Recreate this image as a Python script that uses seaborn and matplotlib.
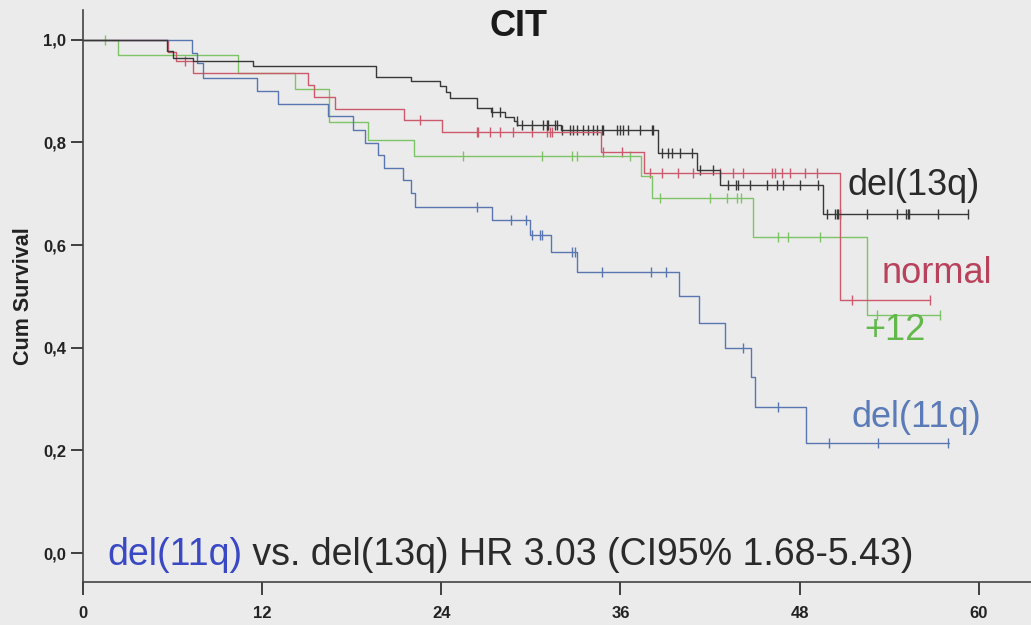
import numpy as np
import pandas as pd
import matplotlib
matplotlib.use("Agg")
import matplotlib.pyplot as plt
import seaborn as sns

# ---------------- data (months, cumulative survival) ----------------
groups = ["del(13q)", "normal", "+12", "del(11q)"]

t_13q = [5.6, 6.0, 7.4, 11.4, 19.6, 22.0, 23.9, 24.3, 24.6, 26.4, 27.3, 28.3,
         28.9, 29.1, 32.0, 38.5, 41.1, 42.7, 49.6]
s_13q = [0.978, 0.965, 0.958, 0.948, 0.928, 0.919, 0.909, 0.899, 0.886, 0.867,
         0.860, 0.850, 0.841, 0.834, 0.825, 0.780, 0.747, 0.717, 0.661]
end_13q = 59.3
c_13q = [27.37, 27.93, 29.05, 29.38, 30.05, 30.83, 31.06, 31.17, 31.61, 31.73,
         32.1, 32.62, 32.82, 33.07, 33.49, 33.82, 34.16, 34.41, 34.74, 34.83,
         35.75, 35.97, 36.17, 36.50, 37.31, 38.09, 38.18, 38.76, 39.18, 39.43,
         39.98, 40.77, 41.33, 42.2, 43.20, 43.74, 43.87, 44.67, 45.81, 46.48,
         46.89, 48.02, 49.23, 49.81, 50.37, 50.48, 50.57, 50.70, 52.49, 54.50,
         55.12, 55.24, 55.33, 57.27, 59.28]

t_norm = [5.7, 6.2, 7.4, 15.1, 15.5, 16.9, 21.5, 24.05, 34.7, 37.6, 50.7]
s_norm = [0.977, 0.958, 0.935, 0.911, 0.889, 0.865, 0.843, 0.821, 0.782, 0.741, 0.493]
end_norm = 56.7
c_norm = [6.83, 22.57, 26.37, 26.46, 27.26, 27.93, 28.80, 30.05, 31.06, 31.28,
          31.39, 34.83, 36.08, 37.98, 38.76, 39.85, 40.86, 42.67, 43.54, 44.21,
          46.13, 46.35, 46.80, 47.39, 48.39, 49.14, 51.49, 56.73]

t_12 = [2.34, 10.4, 14.2, 16.5, 19.1, 22.2, 37.4, 38.1, 44.9, 52.5]
s_12 = [0.971, 0.936, 0.904, 0.839, 0.805, 0.774, 0.734, 0.692, 0.616, 0.464]
end_12 = 57.4
c_12 = [1.47, 25.45, 30.72, 32.73, 33.07, 36.64, 38.65, 41.99, 43.13, 43.80,
        44.07, 46.55, 47.22, 49.36, 53.16, 57.40]

t_11q = [7.27, 7.62, 8.04, 11.63, 13.06, 16.41, 18.10, 18.89, 19.73, 20.19,
         21.45, 21.97, 22.27, 27.37, 29.94, 31.33, 33.07, 39.94, 41.28, 43.00,
         44.74, 45.01, 48.43]
s_11q = [0.975, 0.955, 0.926, 0.901, 0.875, 0.851, 0.825, 0.799, 0.776, 0.751,
         0.727, 0.702, 0.675, 0.648, 0.620, 0.587, 0.548, 0.500, 0.449, 0.399,
         0.342, 0.285, 0.214]
end_11q = 58.0
c_11q = [26.37, 28.65, 29.67, 30.05, 30.61, 30.75, 32.73, 32.95, 34.74, 38.02,
         39.05, 44.23, 46.55, 49.99, 53.27, 57.96]

x_ticks = [0, 12, 24, 36, 48, 60]
y_ticks = [0.0, 0.2, 0.4, 0.6, 0.8, 1.0]
y_tick_labels = ["0,0", "0,2", "0,4", "0,6", "0,8", "1,0"]

title = "CIT"
y_label = "Cum Survival"
hr_group = "del(11q)"
hr_text = " vs. del(13q) HR 3.03 (CI95% 1.68-5.43)"

line_colors = {"del(13q)": "#383838", "normal": "#cc5a6c",
               "+12": "#7dc466", "del(11q)": "#5a76b0"}
label_colors = {"del(13q)": "#2a2a2a", "normal": "#b8425c",
                "+12": "#62b84a", "del(11q)": "#5a7ab8"}
label_pos = {"del(13q)": (51.2, 0.698), "normal": (53.5, 0.526),
             "+12": (52.3, 0.415), "del(11q)": (51.5, 0.246)}

series = {
    "del(13q)": (t_13q, s_13q, end_13q, c_13q),
    "normal": (t_norm, s_norm, end_norm, c_norm),
    "+12": (t_12, s_12, end_12, c_12),
    "del(11q)": (t_11q, s_11q, end_11q, c_11q),
}

# ---------------- build tables ----------------
rows, crow = [], []
for g, (t, s, end, cens) in series.items():
    tt = [0.0] + list(t) + [end]
    ss = [1.0] + list(s) + [s[-1]]
    for a, b in zip(tt, ss):
        rows.append((g, a, b))
    ta = np.array([0.0] + list(t))
    sa = np.array([1.0] + list(s))
    for c in cens:
        idx = np.searchsorted(ta, c, side="right") - 1
        crow.append((g, c, sa[idx]))
curves = pd.DataFrame(rows, columns=["group", "time", "surv"])
censored = pd.DataFrame(crow, columns=["group", "time", "surv"])

# ---------------- plot ----------------
sns.set_theme(style="white")
plt.rcParams["font.family"] = ["Liberation Sans", "DejaVu Sans"]
bg = "#ebebeb"
fig = plt.figure(figsize=(10.31, 6.25), dpi=100, facecolor=bg)
ax = fig.add_axes([0.0805, 0.0688, 0.9195, 0.9152])
ax.set_facecolor(bg)

order = ["+12", "normal", "del(11q)", "del(13q)"]
for g in order:
    sub = curves[curves.group == g]
    sns.lineplot(data=sub, x="time", y="surv", color=line_colors[g],
                 drawstyle="steps-post", estimator=None, sort=False,
                 linewidth=1.0, ax=ax, legend=False)
    csub = censored[censored.group == g]
    sns.scatterplot(data=csub, x="time", y="surv", marker="|", s=55,
                    color=line_colors[g], linewidth=1.0, ax=ax, legend=False)

ax.set_xlim(0, 63.5)
ax.set_ylim(-0.0565, 1.058)
ax.set_xticks(x_ticks)
ax.set_xticklabels([str(v) for v in x_ticks])
ax.set_yticks(y_ticks)
ax.set_yticklabels(y_tick_labels)
narrow = ["Liberation Sans Narrow", "Liberation Sans"]
for lab in ax.get_xticklabels() + ax.get_yticklabels():
    lab.set_fontfamily(narrow)
    lab.set_fontweight("bold")
    lab.set_fontsize(12)
    lab.set_color("#222222")
ax.tick_params(axis="both", direction="out", length=9, width=1.3,
               color="#333333", left=True, bottom=True)
ax.tick_params(axis="x", pad=8)
ax.tick_params(axis="y", pad=3)

for side in ["top", "right"]:
    ax.spines[side].set_visible(False)
for side in ["left", "bottom"]:
    ax.spines[side].set_color("#444444")
    ax.spines[side].set_linewidth(1.2)

ax.set_xlabel("")
ax.set_ylabel(y_label, fontsize=15.5, fontweight="bold", family=narrow,
              color="#222222", labelpad=7)

fig.text(0.503, 0.958, title, ha="center", va="center", fontsize=26,
         fontweight="bold", color="#1a1a1a")

for g in groups:
    x, y = label_pos[g]
    ax.text(x, y, g, color=label_colors[g], fontsize=26, ha="left",
            va="baseline")

t1 = ax.text(1.6, -0.023, hr_group, color="#3a48c4", fontsize=27,
             ha="left", va="baseline")
ax.annotate(hr_text, xy=(1, 0), xycoords=t1, color="#2a2a2a", fontsize=27,
            ha="left", va="bottom")

fig.savefig("out.png", dpi=100, facecolor=bg)
